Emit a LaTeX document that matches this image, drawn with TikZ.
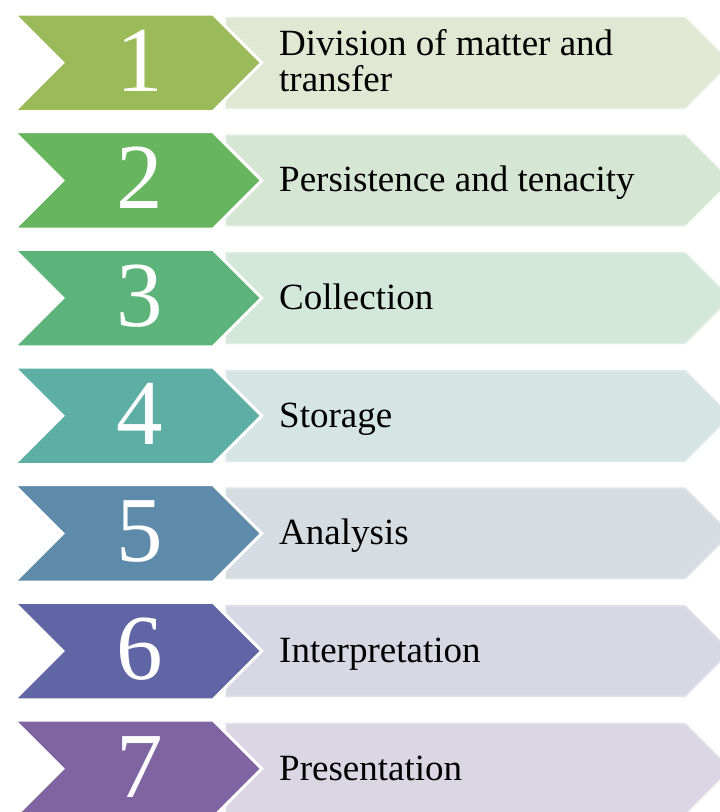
\documentclass[tikz,border=0pt]{standalone}
\usepackage{fontspec}
\setmainfont{Liberation Serif}
% step colours and their pale label bands
\definecolor{c1}{HTML}{9BBB59}\definecolor{l1}{HTML}{E0E7D3}
\definecolor{c2}{HTML}{67B65F}\definecolor{l2}{HTML}{D6E6D5}
\definecolor{c3}{HTML}{5DB47B}\definecolor{l3}{HTML}{D4E7DB}
\definecolor{c4}{HTML}{5DAFA6}\definecolor{l4}{HTML}{D4E5E3}
\definecolor{c5}{HTML}{5F8BAB}\definecolor{l5}{HTML}{D5DDE3}
\definecolor{c6}{HTML}{6066A5}\definecolor{l6}{HTML}{D8D7E4}
\definecolor{c7}{HTML}{8064A1}\definecolor{l7}{HTML}{DAD6E4}
\tikzset{
  chevron/.style={fill=#1, draw=white, line width=3pt, line join=miter},
  labelbox/.style={fill=#1, draw=#1!75!white, line width=1.5pt},
  numtext/.style={text=white, font=\fontsize{93}{93}\selectfont, inner sep=0pt,
                  text depth=0pt, anchor=base},
  steptext/.style={text=black, font=\fontsize{37}{36}\selectfont, anchor=base west,
                   align=left, inner sep=0pt}
}
\begin{document}
\begin{tikzpicture}[x=1pt, y=-1pt]
\useasboundingbox (0,0) rectangle (720,812);
\clip (0,0) rectangle (720,812);
\foreach \i/\label/\off in {1/{Division of matter and\\transfer}/77,
                            2/{Persistence and tenacity}/60,
                            3/{Collection}/60,
                            4/{Storage}/60,
                            5/{Analysis}/60,
                            6/{Interpretation}/60,
                            7/{Presentation}/60} {
  \pgfmathsetmacro{\t}{14+117.67*(\i-1)}
  \pgfmathsetmacro{\b}{\t+97.5}
  \pgfmathsetmacro{\m}{\t+48.75}
  % pale label band behind the chevron
  \path[labelbox=l\i] (226,\t+3.5) -- (685,\t+3.5) -- (730.25,\m)
       -- (685,\b-3.5) -- (226,\b-3.5) -- cycle;
  % coloured chevron with the step number
  \path[chevron=c\i] (14,\t) -- (213,\t) -- (261.75,\m)
       -- (213,\b) -- (14,\b) -- (62.75,\m) -- cycle;
  \node[numtext] (num\i) at (140,\t+77) {\i};
  \node[steptext] (txt\i) at (279,\t+\off) {\label};
}
\end{tikzpicture}
\end{document}
